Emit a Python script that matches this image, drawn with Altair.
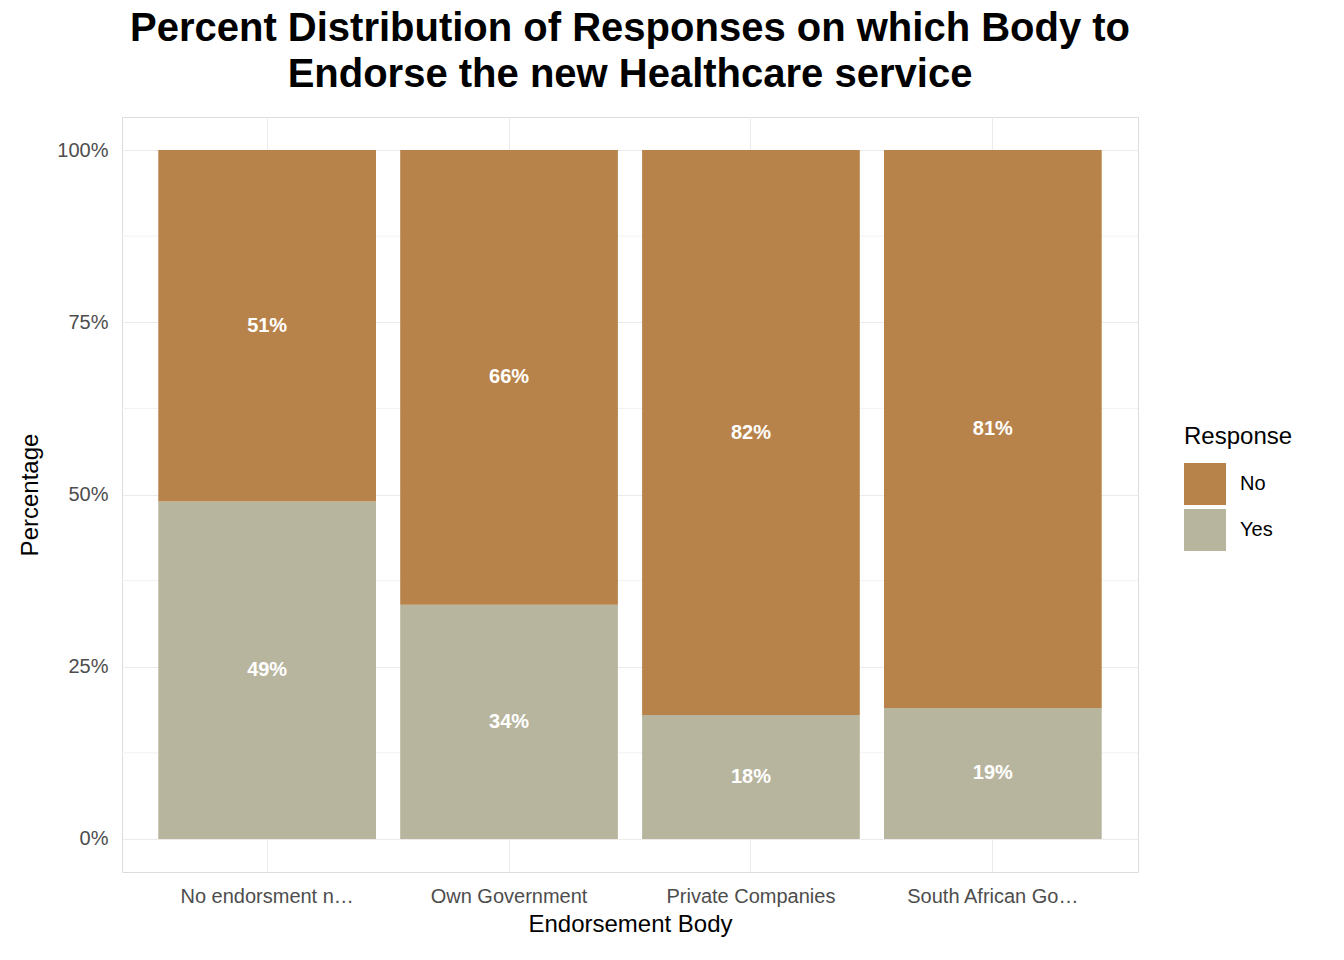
import altair as alt
import pandas as pd

bodies = ["No endorsment needed", "Own Government", "Private Companies", "South African Government"]
yes_pct = [49, 34, 18, 19]
no_pct = [51, 66, 82, 81]

rows = []
for b, y, n in zip(bodies, yes_pct, no_pct):
    rows.append({"body": b, "resp": "Yes", "lo": 0, "hi": y / 100, "mid": y / 200, "lab": f"{y}%"})
    rows.append({"body": b, "resp": "No", "lo": y / 100, "hi": 1, "mid": (y / 100 + 1) / 2, "lab": f"{n}%"})
df = pd.DataFrame(rows)
minor = pd.DataFrame({"v": [0.125, 0.375, 0.625, 0.875]})

yscale = alt.Scale(domain=[-0.048, 1.048], nice=False, zero=False)
xscale = alt.Scale(paddingInner=0.1, paddingOuter=0.15)
grey = "#4D4D4D"

yaxis = alt.Axis(values=[0, 0.25, 0.5, 0.75, 1], format=".0%", ticks=False, domain=False,
                 gridColor="#EBEBEB", labelFontSize=20, labelColor=grey, labelPadding=14,
                 titleFontSize=24, titleFontWeight="normal", titleColor="black", titlePadding=14)
xaxis = alt.Axis(labelAngle=0, ticks=False, domain=False, grid=True, bandPosition=0.5,
                 gridColor="#EBEBEB", labelFontSize=20, labelColor=grey, labelPadding=14,
                 titleFontSize=24, titleFontWeight="normal", titleColor="black", titlePadding=6)

base = alt.Chart(df)
minor_grid = alt.Chart(minor).mark_rule(color="#F2F2F2", strokeWidth=1).encode(
    y=alt.Y("v:Q", scale=yscale, title="Percentage", axis=yaxis))
bars = base.mark_bar().encode(
    x=alt.X("body:N", scale=xscale, sort=bodies, title="Endorsement Body", axis=xaxis),
    y=alt.Y("lo:Q", scale=yscale, title="Percentage", axis=yaxis),
    y2="hi:Q",
    color=alt.Color("resp:N", scale=alt.Scale(domain=["No", "Yes"], range=["#B8834A", "#B8B59E"]),
                    legend=alt.Legend(title="Response", orient="none", legendX=1062, legendY=308,
                                      symbolType="square", symbolSize=1764, symbolStrokeWidth=0,
                                      symbolOpacity=1, titleFontSize=24, titleFontWeight="normal",
                                      labelFontSize=20, titlePadding=14, rowPadding=4, labelOffset=14)),
)
labels = base.mark_text(color="white", fontWeight="bold", fontSize=20).encode(
    x=alt.X("body:N", scale=xscale, sort=bodies, title="Endorsement Body", axis=xaxis),
    y=alt.Y("mid:Q", scale=yscale, title="Percentage", axis=yaxis),
    text="lab:N",
)

chart = alt.layer(minor_grid, bars, labels).properties(
    width=1016, height=755,
    autosize=alt.AutoSizeParams(type="none"),
    padding={"left": 114, "top": 109, "right": 198, "bottom": 80},
    title=alt.TitleParams(["Percent Distribution of Responses on which Body to",
                           "Endorse the new Healthcare service"],
                          fontSize=40, fontWeight="bold", anchor="middle", lineHeight=46,
                          offset=22, color="black"),
).configure_view(strokeWidth=0).configure(font="Liberation Sans")

chart.save("out.html", embed_options={"renderer": "svg", "actions": False})
